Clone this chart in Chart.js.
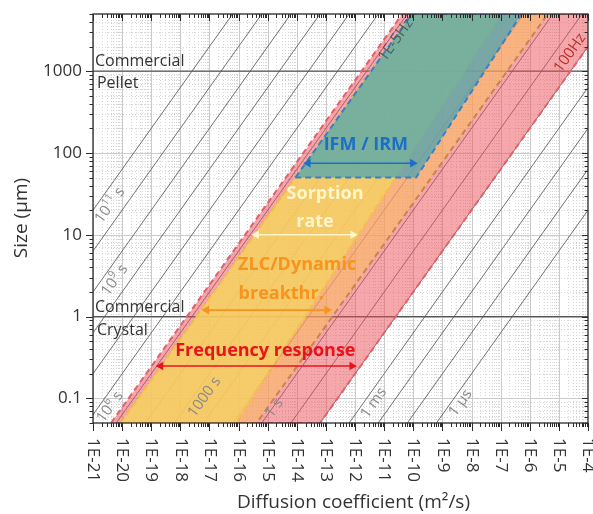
<!DOCTYPE html>
<html>
<head>
<meta charset="utf-8">
<style>
html,body{margin:0;padding:0;background:#ffffff;}
#wrap{width:593px;height:514px;}
</style>
<script src="https://cdn.jsdelivr.net/npm/chart.js@4.4.1/dist/chart.umd.min.js"></script>
</head>
<body>
<div id="wrap"><canvas id="c" width="593" height="514"></canvas></div>
<script>
// ---------------- data ----------------
const xMin = 1e-21, xMax = 1e-4;          // diffusion coefficient, m²/s
const yMin = 0.05,  yMax = 5000;          // size, µm
const xTickLabels = ['1E-21','1E-20','1E-19','1E-18','1E-17','1E-16','1E-15','1E-14','1E-13',
                     '1E-12','1E-11','1E-10','1E-9','1E-8','1E-7','1E-6','1E-5','1E-4'];
const yTickLabels = ['0.1','1','10','100','1000'];

// characteristic diffusion times drawn as diagonal iso-lines (s), t = (L/2)^2 / D
const timeLines = [1e11,1e10,1e9,1e8,1e7,1e6,1e5,1e4,1e3,1e2,1e1,1,1e-1,1e-2,1e-3,1e-4,1e-5,1e-6];

// measurement techniques: time window (s) and minimum particle size (µm)
const techniques     = ['Frequency response','ZLC/Dynamic breakthr.','Sorption rate','IFM / IRM'];
const slowTime       = [1.5e5, 7e4, 7e4, 7e4];
const fastTimeBottom = [0.01, 1.5, 8, 5];
const fastTimeTop    = [0.01, 1.5, 55, 12];
const minSize        = [0.05, 0.05, 0.05, 50];

// double arrows drawn inside each window
const arrowSize = [0.249, 1.2, 10, 75];
const arrowFrom = [2.12e-19, 7.9e-18, 4.06e-16, 2.44e-14];
const arrowTo   = [7.8e-13, 1.09e-13, 8.4e-13, 9.5e-11];

// commercial reference sizes (µm)
const commercialSizes = [1000, 1];

// ---------------- styles ----------------
const bandFill   = ['rgba(238,80,90,0.5)','rgba(252,190,95,0.55)','rgba(245,212,95,0.72)','rgba(55,162,185,0.66)'];
const bandBorder = ['#e2606b','#c98546','#f0c24a','#3a80c6'];
const arrowColor = ['#e8141c','#f7941d','#fff6cc','#1a6fc9'];
const FONT = '"Open Sans", "Noto Sans", sans-serif';

function diffAt(t, L){ const r = L*1e-6/2; return r*r/t; }
function sizeAt(t, D){ return 2e6*Math.sqrt(t*D); }

const datasets = [];
// iso-time lines
timeLines.forEach(t => {
  const D1 = diffAt(t, yMin), D2 = diffAt(t, yMax);
  const p1 = D1 < xMin ? {x:xMin, y:sizeAt(t,xMin)} : {x:D1, y:yMin};
  const p2 = D2 > xMax ? {x:xMax, y:sizeAt(t,xMax)} : {x:D2, y:yMax};
  datasets.push({data:[p1,p2], showLine:true, borderColor:'#606060', borderWidth:0.9,
                 pointRadius:0, fill:false, order:20, clip:0});
});
// commercial size lines
commercialSizes.forEach(L => {
  datasets.push({data:[{x:xMin,y:L},{x:xMax,y:L}], showLine:true, borderColor:'#555',
                 borderWidth:1.2, pointRadius:0, fill:false, order:19, clip:0});
});
// technique windows
techniques.forEach((name,i) => {
  const Lb = minSize[i], Lt = yMax;
  const poly = [
    {x:diffAt(slowTime[i],Lb), y:Lb},
    {x:diffAt(slowTime[i],Lt), y:Lt},
    {x:diffAt(fastTimeTop[i],Lt), y:Lt},
    {x:diffAt(fastTimeBottom[i],Lb), y:Lb},
    {x:diffAt(slowTime[i],Lb), y:Lb}
  ];
  datasets.push({label:name, data:poly, showLine:true, fill:'shape', backgroundColor:bandFill[i],
                 borderColor:bandBorder[i], borderWidth:2, borderDash:[6,4], pointRadius:0,
                 tension:0, order:15-i, clip:0});
});
// arrows
techniques.forEach((name,i) => {
  datasets.push({data:[{x:arrowFrom[i],y:arrowSize[i]},{x:arrowTo[i],y:arrowSize[i]}], showLine:true,
                 borderColor:arrowColor[i], borderWidth:1.6, pointStyle:'triangle',
                 pointRadius:5, pointBackgroundColor:arrowColor[i], pointBorderColor:arrowColor[i],
                 pointBorderWidth:0, pointRotation:(c)=> c.dataIndex===0 ? -90 : 90,
                 fill:false, order:1, clip:false});
});

// text annotations placed in data coordinates
const ROT = -54.4;
const annotations = [
  {text:'Commercial', D:1.17e-21, L:1330, color:'#333', font:'16px '+FONT, align:'left'},
  {text:'Pellet',     D:1.37e-21, L:716,  color:'#333', font:'16px '+FONT, align:'left'},
  {text:'Commercial', D:1.17e-21, L:1.31, color:'#333', font:'16px '+FONT, align:'left'},
  {text:'Crystal',    D:1.37e-21, L:0.685,color:'#333', font:'16px '+FONT, align:'left'},
  {text:'Frequency response', D:8.3e-16, L:0.38, color:'#e8141c', font:'bold 18px '+FONT},
  {text:'ZLC/Dynamic', D:1.03e-14, L:4.3, color:'#f7941d', font:'bold 18px '+FONT},
  {text:'breakthr.',   D:2.9e-15,  L:1.9, color:'#f7941d', font:'bold 18px '+FONT},
  {text:'Sorption',    D:9.3e-14,  L:32,  color:'#fff6cc', font:'bold 18px '+FONT},
  {text:'rate',        D:4.2e-14,  L:14.3,color:'#fff6cc', font:'bold 18px '+FONT},
  {text:'IFM / IRM',   D:2.35e-12, L:125, color:'#1a6fc9', font:'bold 18px '+FONT},
  {text:'10^{11} s', D:3.8e-21, L:23,    color:'#8a8a8a', font:'15px '+FONT, rot:ROT},
  {text:'10^{9} s',  D:5.6e-21, L:2.8,   color:'#8a8a8a', font:'15px '+FONT, rot:ROT},
  {text:'10^{6} s',  D:3.8e-21, L:0.0785,color:'#8a8a8a', font:'15px '+FONT, rot:ROT},
  {text:'1000 s',    D:6.8e-18, L:0.104, color:'#8a8a8a', font:'15px '+FONT, rot:ROT},
  {text:'1 s',       D:1.67e-15,L:0.076, color:'#8a8a8a', font:'15px '+FONT, rot:ROT},
  {text:'1 ms',      D:4.4e-12, L:0.088, color:'#8a8a8a', font:'15px '+FONT, rot:ROT},
  {text:'1 µs',      D:4.2e-9,  L:0.088, color:'#8a8a8a', font:'15px '+FONT, rot:ROT},
  {text:'1E-5Hz',    D:2.5e-11, L:2400,  color:'#4a5e66', font:'15px '+FONT, rot:ROT},
  {text:'100Hz',     D:2.4e-5,  L:1670,  color:'#b8322a', font:'15px '+FONT, rot:ROT}
];

function drawRich(ctx, text, x, y, align){
  // supports ^{sup}
  const parts = [];
  const re = /\^\{([^}]*)\}/g; let last = 0, m;
  while ((m = re.exec(text))){ if (m.index>last) parts.push({t:text.slice(last,m.index),sup:false}); parts.push({t:m[1],sup:true}); last = re.lastIndex; }
  if (last < text.length) parts.push({t:text.slice(last),sup:false});
  const baseFont = ctx.font;
  const size = parseFloat(baseFont.match(/(\d+(\.\d+)?)px/)[1]);
  const supFont = baseFont.replace(/(\d+(\.\d+)?)px/, (size*0.7).toFixed(1)+'px');
  let w = 0;
  parts.forEach(p => { ctx.font = p.sup ? supFont : baseFont; p.w = ctx.measureText(p.t).width; w += p.w; });
  let cx = align==='left' ? x : x - w/2;
  ctx.textAlign = 'left';
  parts.forEach(p => { ctx.font = p.sup ? supFont : baseFont; ctx.fillText(p.t, cx, p.sup ? y - size*0.35 : y); cx += p.w; });
  ctx.font = baseFont;
}

const decor = {
  id:'decor',
  beforeDatasetsDraw(chart){
    const {ctx, chartArea:a, scales:{x:xs, y:ys}} = chart;
    ctx.save();
    ctx.beginPath(); ctx.rect(a.left,a.top,a.right-a.left,a.bottom-a.top); ctx.clip();
    // minor grid
    ctx.strokeStyle = '#d6d6d6'; ctx.lineWidth = 1; ctx.setLineDash([1,2]);
    for (let e=-21;e<=-5;e++) for (let m=2;m<=9;m++){ const px=Math.round(xs.getPixelForValue(m*Math.pow(10,e)))+0.5; ctx.beginPath(); ctx.moveTo(px,a.top); ctx.lineTo(px,a.bottom); ctx.stroke(); }
    for (let e=-2;e<=3;e++) for (let m=1;m<=9;m++){ const v=m*Math.pow(10,e); if (m===1||v<yMin||v>yMax) continue; const py=Math.round(ys.getPixelForValue(v))+0.5; ctx.beginPath(); ctx.moveTo(a.left,py); ctx.lineTo(a.right,py); ctx.stroke(); }
    // major grid
    ctx.setLineDash([]); ctx.strokeStyle = '#cbcbcb';
    for (let e=-21;e<=-4;e++){ const px=Math.round(xs.getPixelForValue(Math.pow(10,e)))+0.5; ctx.beginPath(); ctx.moveTo(px,a.top); ctx.lineTo(px,a.bottom); ctx.stroke(); }
    for (let e=-1;e<=3;e++){ const py=Math.round(ys.getPixelForValue(Math.pow(10,e)))+0.5; ctx.beginPath(); ctx.moveTo(a.left,py); ctx.lineTo(a.right,py); ctx.stroke(); }
    ctx.restore();
  },
  afterDatasetsDraw(chart){
    const {ctx, scales:{x:xs, y:ys}} = chart;
    ctx.save();
    ctx.textBaseline = 'middle';
    annotations.forEach(an => {
      const px = xs.getPixelForValue(an.D), py = ys.getPixelForValue(an.L);
      ctx.font = an.font; ctx.fillStyle = an.color;
      ctx.save();
      ctx.translate(px, py);
      if (an.rot) ctx.rotate(an.rot*Math.PI/180);
      drawRich(ctx, an.text, 0, 0, an.align||'center');
      ctx.restore();
    });
    ctx.restore();
  },
  afterDraw(chart){
    const {ctx, chartArea:a, scales:{x:xs, y:ys}} = chart;
    ctx.save();
    ctx.strokeStyle = '#2b2b2b'; ctx.lineWidth = 1.3;
    ctx.strokeRect(a.left, a.top, a.right-a.left, a.bottom-a.top);
    ctx.lineWidth = 1;
    // x ticks
    for (let e=-21;e<=-4;e++) for (let m=1;m<=9;m++){
      const v = m*Math.pow(10,e); if (v > xMax*1.0001) break;
      const px = Math.round(xs.getPixelForValue(v))+0.5; const major = m===1;
      ctx.beginPath(); ctx.moveTo(px,a.bottom); ctx.lineTo(px,a.bottom+(major?8:4)); ctx.stroke();
      ctx.beginPath(); ctx.moveTo(px,a.top); ctx.lineTo(px,a.top+(major?7:4)); ctx.stroke();
    }
    // y ticks
    for (let e=-2;e<=3;e++) for (let m=1;m<=9;m++){
      const v = m*Math.pow(10,e); if (v<yMin*0.9999||v>yMax*1.0001) continue;
      const py = Math.round(ys.getPixelForValue(v))+0.5; const major = m===1;
      ctx.beginPath(); ctx.moveTo(a.left,py); ctx.lineTo(a.left-(major?7:3.5),py); ctx.stroke();
      ctx.beginPath(); ctx.moveTo(a.right,py); ctx.lineTo(a.right-(major?6:3.5),py); ctx.stroke();
    }
    // tick labels
    ctx.fillStyle = '#333';
    ctx.font = '17px '+FONT; ctx.textBaseline = 'middle'; ctx.textAlign = 'left';
    xTickLabels.forEach((lab,i) => {
      const px = xs.getPixelForValue(Math.pow(10,-21+i));
      ctx.save(); ctx.translate(px, a.bottom+15); ctx.rotate(Math.PI/2); ctx.fillText(lab, 0, 0); ctx.restore();
    });
    ctx.font = '17px '+FONT; ctx.textAlign = 'right';
    yTickLabels.forEach((lab,i) => {
      const py = ys.getPixelForValue(Math.pow(10,-1+i));
      ctx.fillText(lab, a.left-11, py);
    });
    // axis titles
    ctx.font = '19px '+FONT; ctx.textAlign = 'center';
    ctx.fillText('Diffusion coefficient (m²/s)', (a.left+a.right)/2 + 13, 503);
    ctx.save(); ctx.translate(22, 218); ctx.rotate(-Math.PI/2); ctx.fillText('Size (µm)', 0, 0); ctx.restore();
    ctx.restore();
  }
};

new Chart(document.getElementById('c'), {
  type:'scatter',
  data:{datasets},
  options:{
    responsive:false, animation:false, devicePixelRatio:1, events:[],
    layout:{padding:{top:14, right:3, left:0, bottom:0}},
    plugins:{legend:{display:false}, tooltip:{enabled:false}},
    scales:{
      x:{type:'logarithmic', min:xMin, max:xMax, ticks:{display:false}, grid:{display:false},
         border:{display:false}, afterFit:(s)=>{ s.height = 91; }},
      y:{type:'logarithmic', min:yMin, max:yMax, ticks:{display:false}, grid:{display:false},
         border:{display:false}, afterFit:(s)=>{ s.width = 93; }}
    }
  },
  plugins:[decor]
});
</script>
</body>
</html>
